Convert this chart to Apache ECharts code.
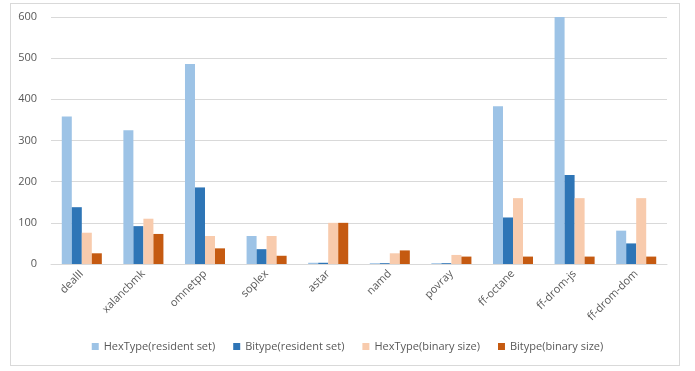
<!DOCTYPE html>
<html>
<head>
<meta charset="utf-8">
<script src="https://cdn.jsdelivr.net/npm/echarts@6/dist/echarts.min.js"></script>
<style>
  html, body { margin: 0; padding: 0; background: #ffffff; }
  #frame { position: absolute; left: 10px; top: 3px; width: 670px; height: 363px; border: 1px solid #D9D9D9; box-sizing: border-box; }
  #chart { position: absolute; left: 0; top: 0; width: 695px; height: 371px; }
</style>
</head>
<body>
<div id="frame"></div>
<div id="chart"></div>
<script>
// Benchmarks on the x axis
const benchmarks = ['dealII', 'xalancbmk', 'omnetpp', 'soplex', 'astar', 'namd', 'povray', 'ff-octane', 'ff-drom-js', 'ff-drom-dom'];

// Memory overhead per benchmark
const hexTypeResident = [358, 325, 486, 68, 3, 2, 2, 383, 600, 81];
const bitypeResident  = [138, 92, 186, 36, 3, 2, 2, 113, 216, 50];
const hexTypeBinary   = [76, 110, 68, 68, 100, 26, 22, 160, 160, 160];
const bitypeBinary    = [26, 73, 38, 20, 100, 33, 18, 18, 18, 18];

const seriesNames = ['HexType(resident set)', 'Bitype(resident set)', 'HexType(binary size)', 'Bitype(binary size)'];
const seriesData = [hexTypeResident, bitypeResident, hexTypeBinary, bitypeBinary];
const seriesColors = ['#9DC3E6', '#2E75B6', '#F8CBAD', '#C55A11'];

const yTicks = [0, 100, 200, 300, 400, 500, 600];

const textFont = '"Open Sans", "Liberation Sans", sans-serif';
const chart = echarts.init(document.getElementById('chart'));

chart.setOption({
  animation: false,
  color: seriesColors,
  grid: { left: 51, right: 28, top: 17, bottom: 107 },
  legend: {
    bottom: 14,
    left: 'center',
    itemWidth: 7,
    itemHeight: 7,
    itemGap: 18,
    icon: 'rect',
    textStyle: { color: '#595959', fontSize: 11, fontFamily: textFont },
    data: seriesNames
  },
  xAxis: {
    type: 'category',
    data: benchmarks,
    axisLine: { lineStyle: { color: '#D9D9D9', width: 1 } },
    axisTick: { show: false },
    axisLabel: {
      rotate: 45,
      interval: 0,
      color: '#595959',
      fontSize: 11,
      fontFamily: textFont,
      margin: 8
    }
  },
  yAxis: {
    type: 'value',
    min: yTicks[0],
    max: yTicks[yTicks.length - 1],
    interval: yTicks[1] - yTicks[0],
    axisLine: { show: false },
    axisTick: { show: false },
    splitLine: { lineStyle: { color: '#D9D9D9', width: 1 } },
    axisLabel: { color: '#595959', fontSize: 11, fontFamily: textFont, margin: 14 }
  },
  series: seriesNames.map((name, i) => ({
    name: name,
    type: 'bar',
    data: seriesData[i],
    barGap: '0%',
    barCategoryGap: '35%',
    itemStyle: { color: seriesColors[i] }
  }))
});
</script>
</body>
</html>
